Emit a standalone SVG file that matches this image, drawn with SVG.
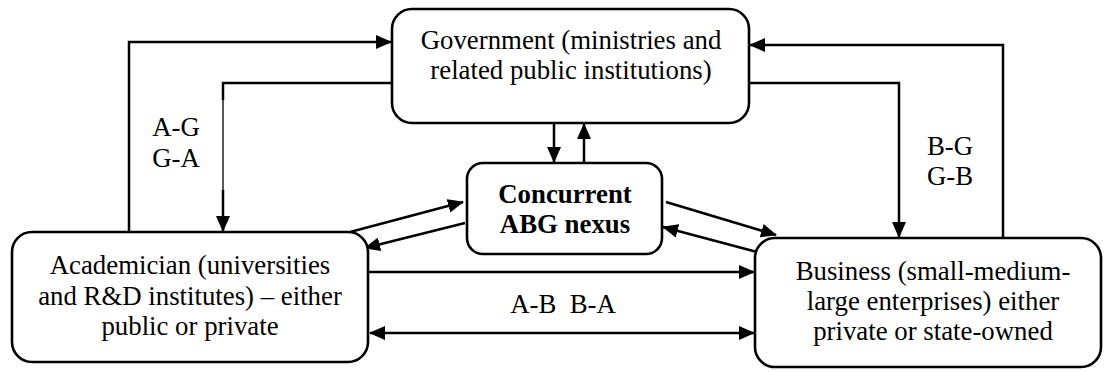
<svg xmlns="http://www.w3.org/2000/svg" width="1104" height="372" viewBox="0 0 1104 372">
<style>
  .box { fill: #fff; stroke: #000; stroke-width: 2.6; }
  .t { font-family: 'Liberation Serif', Tinos, 'Times New Roman', Times, serif; font-size: 26.8px; fill: #000; text-anchor: middle; }
  .b { font-weight: bold; }
  .c { fill: none; stroke: #000; stroke-width: 2.5; }
  .thin { fill: none; stroke: #000; stroke-width: 1.3; }
</style>
<defs>
  <marker id="ah" markerUnits="userSpaceOnUse" markerWidth="16" markerHeight="14" refX="15" refY="7" orient="auto-start-reverse">
    <path d="M0,0 L16,7 L0,14 z" fill="#000"/>
  </marker>
</defs>
<rect width="1104" height="372" fill="#fff"/>
<g id="connectors">
  <path class="c" d="M129,232 V42 H391" marker-end="url(#ah)"/>
  <path class="c" d="M391,83 H223 V100"/>
  <path class="thin" d="M223,100 V190"/>
  <path class="c" d="M223,190 V231" marker-end="url(#ah)"/>
  <path class="c" d="M554,123 V162" marker-end="url(#ah)"/>
  <path class="c" d="M584,163 V124" marker-end="url(#ah)"/>
  <path class="c" d="M749,83 H899 V237" marker-end="url(#ah)"/>
  <path class="c" d="M1003,238 V45 H750" marker-end="url(#ah)"/>
  <path class="c" d="M350,232 L463,202" marker-end="url(#ah)"/>
  <path class="c" d="M465,223 L365,248" marker-end="url(#ah)"/>
  <path class="c" d="M666,202 L776,235" marker-end="url(#ah)"/>
  <path class="c" d="M757,252 L663,227" marker-end="url(#ah)"/>
  <path class="c" d="M369,272 H754" marker-end="url(#ah)"/>
  <path class="c" d="M370,333 H754" marker-start="url(#ah)" marker-end="url(#ah)"/>
  <text class="t" x="176" y="136">A-G</text>
  <text class="t" x="176" y="167">G-A</text>
  <text class="t" x="950" y="155">B-G</text>
  <text class="t" x="950" y="185">G-B</text>
  <text class="t" x="563" y="313" xml:space="preserve">A-B  B-A</text>
</g>
<g id="government">
  <rect class="box" x="392" y="9" width="357" height="114" rx="20"/>
  <text class="t" x="571" y="49">Government (ministries and</text>
  <text class="t" x="571" y="79">related public institutions)</text>
</g>
<g id="concurrent">
  <rect class="box" x="467" y="163" width="195" height="91" rx="16"/>
  <text class="t b" x="565" y="203">Concurrent</text>
  <text class="t b" x="565" y="233">ABG nexus</text>
</g>
<g id="academician">
  <rect class="box" x="12" y="232" width="356" height="130" rx="20"/>
  <text class="t" x="190" y="274">Academician (universities</text>
  <text class="t" x="190" y="305">and R&amp;D institutes) – either</text>
  <text class="t" x="190" y="335">public or private</text>
</g>
<g id="business">
  <rect class="box" x="755" y="238" width="346" height="129" rx="20"/>
  <text class="t" x="933" y="280">Business (small-medium-</text>
  <text class="t" x="933" y="310">large enterprises) either</text>
  <text class="t" x="933" y="340">private or state-owned</text>
</g>
</svg>
